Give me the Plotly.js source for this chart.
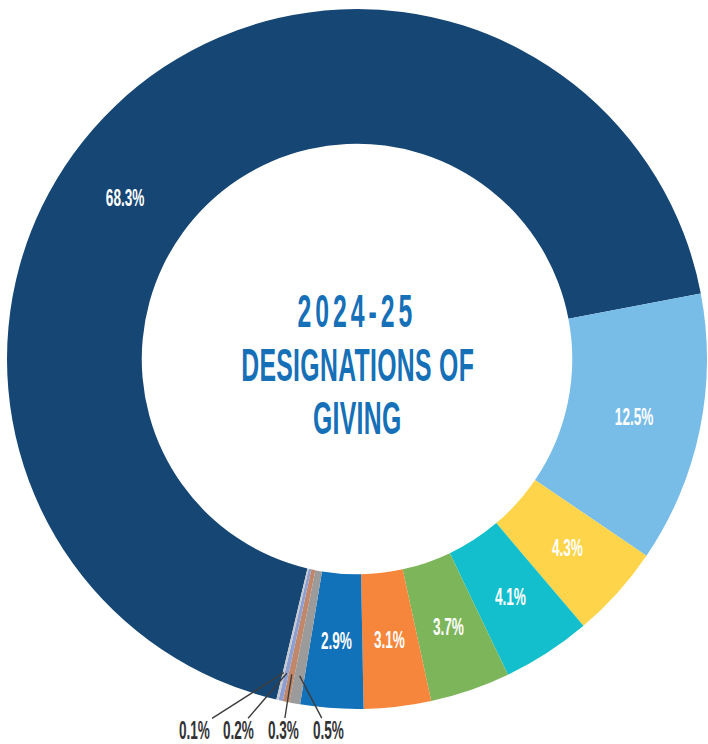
<!DOCTYPE html>
<html><head><meta charset="utf-8">
<script src="https://cdn.plot.ly/plotly-3.0.1.min.js"></script>
<style>
html,body{margin:0;padding:0;background:#fff;overflow:hidden}
#chart{width:708px;height:744px}
.annotation-text{transform-box:fill-box;transform-origin:center;}
</style></head><body><div id="chart"></div>
<script>
// ---- data ----
const categories = ['Designation 1','Designation 2','Designation 3','Designation 4','Designation 5','Designation 6','Designation 7','Designation 8','Designation 9','Designation 10','Designation 11'];
const values = [68.3, 12.5, 4.3, 4.1, 3.7, 3.1, 2.9, 0.5, 0.3, 0.2, 0.1];
const colors = ['#154674','#78bce8','#fed44b','#13bfcc','#7db55b','#f5863b','#1171b9','#9b9b9b','#c0876b','#8d9fd0','#c5c8cc'];
const titleLines = ['2024-25','DESIGNATIONS OF','GIVING'];

// ---- style ----
const W = 708, H = 744;
const dom = {x:[7/708, 707/708], y:[35/744, 735/744]};
const hole = 0.615;
const rotation = 79.2 - values[0] * 3.6;
const labelAt = [0.454, 0.5, 0.5, 0.5, 0.5, 0.5, 0.5, 0.5, 0.5, 0.5, 0.5];
const outsideIdx = [7, 8, 9, 10];
const outsideLabelX = [328, 283, 238, 194];
const outsideLabelY = 730;
const font = 'Liberation Sans';
const squeeze = 0.8;

const cx = (dom.x[0] + dom.x[1]) / 2 * W;
const cy = (1 - (dom.y[0] + dom.y[1]) / 2) * H;
const R = Math.min((dom.x[1]-dom.x[0]) * W, (dom.y[1]-dom.y[0]) * H) / 2;
const total = values.reduce((a,b)=>a+b,0);

function polar(deg, r){
  const a = deg * Math.PI / 180;
  return [cx + r*Math.sin(a), cy - r*Math.cos(a)];
}
const annotations = [];
const scales = [];
let cum = rotation;
values.forEach((v,i)=>{
  const span = v / total * 360;
  const oi = outsideIdx.indexOf(i);
  if (oi < 0) {
    const p = polar(cum + span*labelAt[i], R*(1+hole)/2);
    annotations.push({x:p[0]/W, y:1-p[1]/H, xref:'paper', yref:'paper', showarrow:false,
      xanchor:'center', yanchor:'middle',
      text: v.toFixed(1)+'%', font:{family:font, size:17, color:'#ffffff', weight:700}});
    scales.push([squeeze,1.45,0]);
  } else {
    const tip = polar(cum + span/2, R*0.92);
    annotations.push({x:tip[0]/W, y:1-tip[1]/H, xref:'paper', yref:'paper', showarrow:true,
      arrowhead:0, arrowwidth:1.4, arrowcolor:'#3d3d3d', standoff:0, startstandoff:1,
      ax: outsideLabelX[oi]-tip[0], ay: outsideLabelY-tip[1],
      text: v.toFixed(1)+'%', font:{family:font, size:17, color:'#333333', weight:700}});
    scales.push([squeeze,1.5,0]);
  }
  cum += span;
});
const titleY = [311.7, 365.4, 418.3];
titleLines.forEach((t,i)=>{
  annotations.push({x:cx/W, y:1-titleY[i]/H, xref:'paper', yref:'paper', showarrow:false,
    xanchor:'center', yanchor:'middle',
    text:t, font:{family:font, size:31, color:'#1570b7', weight:700}});
  scales.push([squeeze,1.5, i===0 ? 5 : 0.4]);
});

Plotly.newPlot('chart', [{
  type:'pie', labels:categories, values:values, sort:false, direction:'clockwise',
  rotation:rotation, hole:hole, domain:dom, textinfo:'none', hoverinfo:'none',
  marker:{colors:colors, line:{width:0}}, showlegend:false
}], {
  width:W, height:H, margin:{l:0,r:0,t:0,b:0}, paper_bgcolor:'#ffffff',
  showlegend:false, annotations:annotations
}, {staticPlot:true}).then(()=>{
  document.querySelectorAll('.annotation').forEach(g=>{
    const idx = +g.getAttribute('data-index');
    const t = g.querySelector('.annotation-text');
    const s = scales[idx];
    if (t && s) {
      t.style.transform = 'scale(' + s[0] + ',' + s[1] + ')';
      if (s[2]) t.style.letterSpacing = s[2] + 'px';
    }
  });
});
</script></body></html>
